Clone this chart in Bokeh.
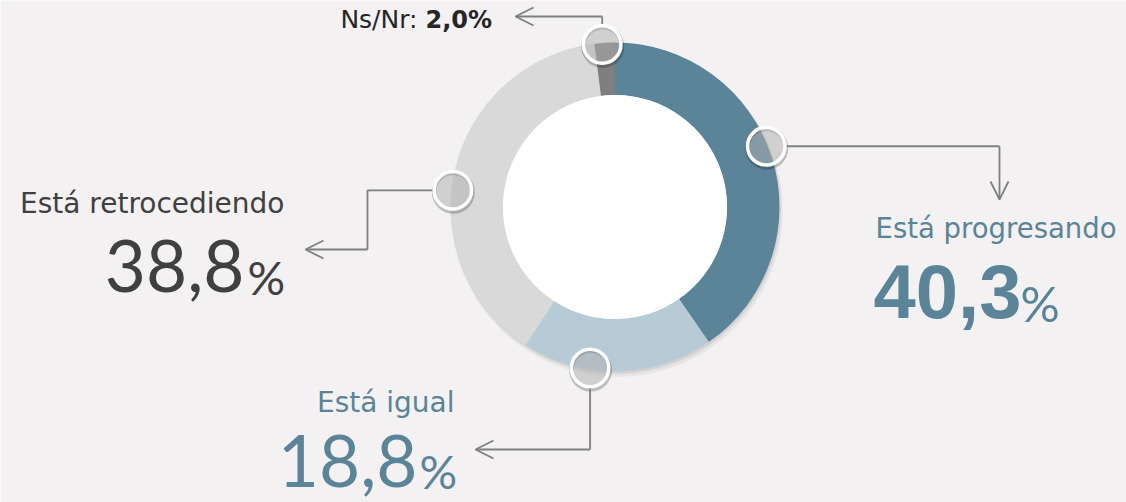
import numpy as np
from bokeh.plotting import figure
from bokeh.models import Range1d, Arrow, OpenHead, ColumnDataSource
from bokeh.core.properties import value
from bokeh.embed import file_html
from bokeh.resources import INLINE

# ---------------- data ----------------
categories = ["Está progresando", "Está igual", "Está retrocediendo", "Ns/Nr"]
values = [40.3, 18.8, 38.8, 2.0]

# ---------------- style / layout ----------------
seg_colors = ["#5b8499", "#b7cbd6", "#d9d9d9", "#7f7f7f"]
BG = "#f3f1f2"
BLUE_TXT = "#5b8499"
DARK_TXT = "#404040"
LINE_C = "#808080"
W, H = 1126, 502


def X(sx):
    return sx


def Y(sy):
    return H - sy


cx, cy = X(614.5), Y(206.5)
R_OUT, R_IN = 164.5, 112.0
R_MARK = 163.0
MARK_R = 20.5
marker_shift_deg = [4.5, -9.7, 7.0, 0.9]

p = figure(width=W, height=H, output_backend="svg", toolbar_location=None,
           x_range=Range1d(0, W), y_range=Range1d(0, H),
           x_axis_location=None, y_axis_location=None, min_border=0,
           background_fill_color=BG, border_fill_color=BG, outline_line_color=None)
p.grid.visible = False

vals = np.array(values, dtype=float)
fr = vals / vals.sum()
cum = np.concatenate([[0.0], np.cumsum(fr)])
starts = np.pi / 2 - 2 * np.pi * cum[:-1]
ends = np.pi / 2 - 2 * np.pi * cum[1:]

# ring shadow
p.annulus(x=cx + 2, y=cy - 4, inner_radius=R_OUT - 20, outer_radius=R_OUT + 1.5,
          fill_color="black", fill_alpha=0.05, line_color=None)
p.annulus(x=cx + 1, y=cy - 2, inner_radius=R_OUT - 20, outer_radius=R_OUT + 0.5,
          fill_color="black", fill_alpha=0.08, line_color=None)

src = ColumnDataSource(dict(cat=categories, val=values, start=ends, end=starts, color=seg_colors))
p.annular_wedge(x=cx, y=cy, inner_radius=R_IN, outer_radius=R_OUT, start_angle="start",
                end_angle="end", direction="anticlock", fill_color="color", line_color=None,
                source=src)
p.circle(x=cx, y=cy, radius=R_IN, fill_color="white", line_color=None)

# markers
mid = (starts + ends) / 2 + np.radians(marker_shift_deg)
mx = cx + R_MARK * np.cos(mid)
my = cy + R_MARK * np.sin(mid)
p.annulus(x=mx + 0.5, y=my - 2, inner_radius=17, outer_radius=21.5,
          fill_color="black", fill_alpha=0.22, line_color=None)
p.scatter(x=mx, y=my, size=37.5, marker="circle", fill_color="#afafaf", fill_alpha=0.5,
          line_color="white", line_width=3.5)

# leader lines
lw = 1.8
paths_x, paths_y, arrows = [], [], []
# progresando
paths_x.append([mx[0] + MARK_R, X(999)]); paths_y.append([my[0], my[0]])
arrows.append((X(999), my[0], X(999), Y(199)))
# igual
paths_x.append([mx[1], mx[1]]); paths_y.append([my[1] - MARK_R, Y(449)])
arrows.append((mx[1], Y(449), X(475), Y(449)))
# retrocediendo
paths_x.append([mx[2] - MARK_R, X(367), X(367)]); paths_y.append([my[2], my[2], Y(249)])
arrows.append((X(367), Y(249), X(305), Y(249)))
# ns/nr
paths_x.append([mx[3], mx[3]]); paths_y.append([my[3] + MARK_R, Y(16)])
arrows.append((mx[3], Y(16), X(515), Y(16)))
p.multi_line(xs=paths_x, ys=paths_y, line_color=LINE_C, line_width=lw)
for (x0, y0, x1, y1) in arrows:
    p.add_layout(Arrow(x_start=x0, y_start=y0, x_end=x1, y_end=y1, line_color=LINE_C,
                       line_width=lw,
                       end=OpenHead(size=18, line_color=LINE_C, line_width=lw)))


def fmt(v):
    return f"{v:.1f}".replace(".", ",")


LBL_FONT = value("DejaVu Sans")
NUM_FONT = value("Lato")


def txt(x, y, s, font, size, color, align, style="normal"):
    p.text(x=[X(x)], y=[Y(y)], text=[s], text_font=font, text_font_size=size,
           text_font_style=style, text_color=color, text_align=align, text_baseline="middle")


# category labels (y = vertical centre of capitals)
txt(875, 227, categories[0], LBL_FONT, "27.5px", BLUE_TXT, "left")
txt(454, 402, categories[1], LBL_FONT, "28px", BLUE_TXT, "right")
txt(284, 203, categories[2], LBL_FONT, "28px", DARK_TXT, "right")
txt(417, 19, categories[3] + ":", LBL_FONT, "25px", "#262626", "right")
txt(425, 19, fmt(values[3]) + "%", LBL_FONT, "24px", "#262626", "left", "bold")

# big numbers
txt(873, 291, fmt(values[0]), value("Liberation Sans"), "76px", BLUE_TXT, "left", "bold")
txt(1020, 302, "%", NUM_FONT, "49px", BLUE_TXT, "left")

txt(244, 265.5, fmt(values[2]), NUM_FONT, "71px", DARK_TXT, "right")
txt(247, 276, "%", NUM_FONT, "47px", DARK_TXT, "left")

txt(417, 460, fmt(values[1]), NUM_FONT, "71px", BLUE_TXT, "right")
txt(419, 470, "%", NUM_FONT, "47px", BLUE_TXT, "left")

open("out.html", "w").write(file_html(p, INLINE))
